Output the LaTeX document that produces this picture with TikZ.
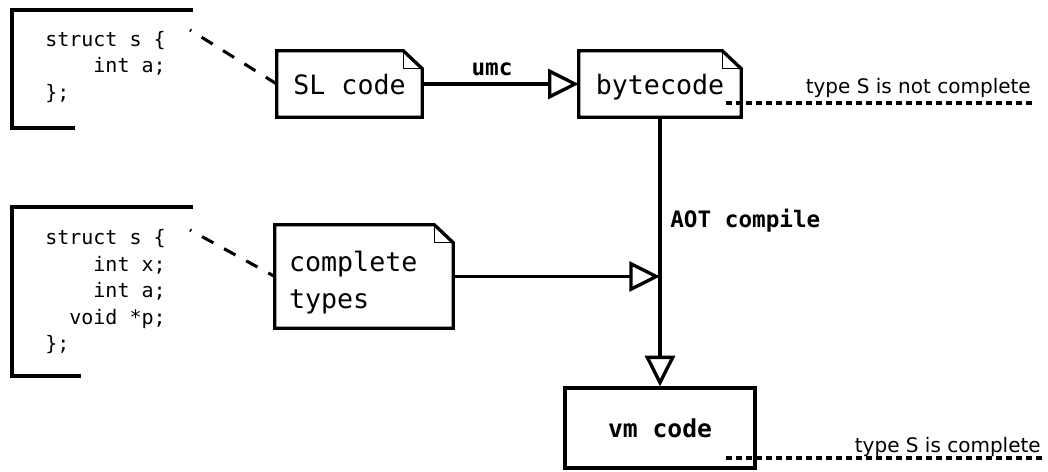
\documentclass[tikz,border=0pt]{standalone}
\usepackage{fontspec}
\setmainfont{DejaVu Sans}
\setsansfont{DejaVu Sans}
\setmonofont{DejaVu Sans Mono}
\usetikzlibrary{arrows.meta}

\tikzset{
  doc/.style={inner sep=0pt, font=\ttfamily\fontsize{20pt}{27.75pt}\selectfont},
  flow/.style={line width=2.5pt, -{Triangle[fill=white, length=23pt, width=22.5pt]}},
  hint/.style={line width=2.3pt, dash pattern=on 9.75pt off 9.15pt, dash phase=8.65pt},
  level/.style={line width=2.5pt, dash pattern=on 4.5pt off 3pt},
  code/.style={align=left, inner sep=0pt, font=\ttfamily\fontsize{15pt}{19.9pt}\selectfont},
  cmd/.style={inner sep=0pt, font=\ttfamily\bfseries\fontsize{17pt}{20pt}\selectfont},
  remark/.style={inner sep=0pt, font=\sffamily\fontsize{15pt}{18pt}\selectfont}
}

% outline of a document with a folded corner
\newcommand{\docshape}[1]{%
  \draw[line width=2.5pt] (#1.north west) -- ([shift={(-19,0)}]#1.north east)
    -- ([shift={(0,18)}]#1.north east) -- (#1.south east) -- (#1.south west) -- cycle;
  \draw[line width=0.8pt] ([shift={(-19,0)}]#1.north east) |- ([shift={(0,18)}]#1.north east);
}

\begin{document}
\begin{tikzpicture}[x=0.75pt, y=-0.75pt]
    \useasboundingbox (0,0) rectangle (1048,471);

    % comment brackets
    \draw[line width=2.5pt] (193,10) -- (12,10) -- (12,128) -- (75,128);
    \draw[line width=2.5pt] (193,207) -- (12,207) -- (12,376) -- (81,376);
    \node[code, anchor=north west] (src1) at (45,31) {struct s \{\\\phantom{xxxx}int a;\\\};};
    \node[code, anchor=north west] (src2) at (45,229) {struct s \{\\\phantom{xxxx}int x;\\\phantom{xxxx}int a;\\\phantom{xx}void *p;\\\};};

    % documents
    \node[doc, minimum width=108.75pt, minimum height=49.5pt, text height=15pt, text depth=0pt] (sl) at (349.5,84) {SL code};
    \node[doc, minimum width=121.5pt, minimum height=49.5pt, text height=15pt, text depth=0pt] (bc) at (660,84) {bytecode};
    \node[doc, align=left, text width=112.5pt, inner xsep=10.5pt, minimum height=77.25pt] (types) at (364,276.5) {\rule{0pt}{24pt}complete\\types};
    \docshape{sl}
    \docshape{bc}
    \docshape{types}
    \node[draw, line width=2.5pt, cmd, font=\ttfamily\bfseries\fontsize{18.5pt}{22pt}\selectfont, minimum width=142.5pt, minimum height=60pt] (vm) at (660,428) {vm code};

    % flow
    \coordinate (merge) at (bc.south |- types.east);
    \draw[flow] (sl) -- (bc);
    \draw[flow] (bc) -- (vm);
    \draw[flow] (types) -- (merge);
    \node[cmd, anchor=base] (umc) at (492,75) {umc};
    \node[cmd, anchor=base west] (aot) at (670,227) {AOT compile};

    % links to the comments
    \coordinate (h1) at (190,30);
    \coordinate (h2) at (190,230);
    \draw[hint] (h1) -- (sl.west);
    \draw[hint] (h2) -- (types.west);

    % type levels
    \coordinate (n1a) at (726,103);
    \coordinate (n1b) at (1033,103);
    \coordinate (n2a) at (726,458);
    \coordinate (n2b) at (1043,458);
    \draw[level] (n1a) -- (n1b);
    \draw[level] (n2a) -- (n2b);
    \node[remark, anchor=base east] (t1) at (1031,93) {type S is not complete};
    \node[remark, anchor=base east] (t2) at (1041,452) {type S is complete};
\end{tikzpicture}
\end{document}
